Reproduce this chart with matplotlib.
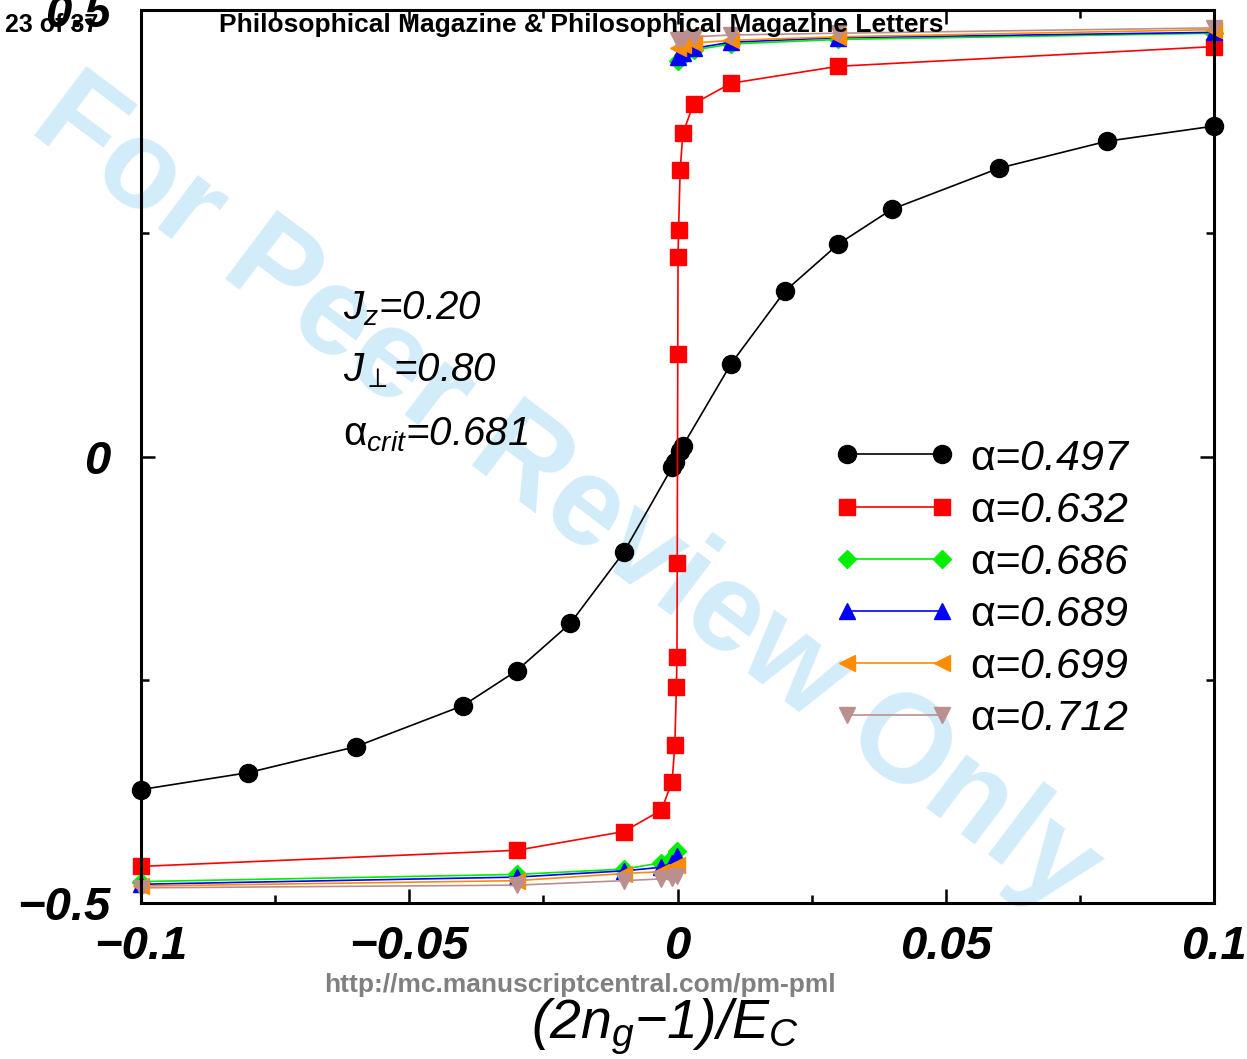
import matplotlib
matplotlib.use("Agg")
from matplotlib import pyplot as plt
from matplotlib.ticker import MultipleLocator, FixedLocator

plt.rcParams['font.family'] = ['Liberation Sans', 'DejaVu Sans']
plt.rcParams['mathtext.fontset'] = 'custom'
plt.rcParams['mathtext.rm'] = 'Liberation Sans'
plt.rcParams['mathtext.it'] = 'Liberation Sans:italic'
plt.rcParams['mathtext.bf'] = 'Liberation Sans:bold'
plt.rcParams['axes.unicode_minus'] = True

# data
x_497 = [-0.1, -0.08, -0.06, -0.04, -0.03, -0.02, -0.01, -0.001, -0.0005,
         0.0005, 0.001, 0.01, 0.02, 0.03, 0.04, 0.06, 0.08, 0.1]
y_497 = [-0.373, -0.354, -0.325, -0.279, -0.240, -0.187, -0.107, -0.012, -0.006,
         0.006, 0.012, 0.104, 0.185, 0.238, 0.277, 0.323, 0.353, 0.370]

x_632 = [-0.1, -0.03, -0.01, -0.003, -0.001, -0.0005, -0.0002, -0.0001, -0.00005,
         0.00005, 0.0001, 0.0002, 0.0005, 0.001, 0.003, 0.01, 0.03, 0.1]
y_632 = [-0.459, -0.441, -0.420, -0.396, -0.364, -0.323, -0.258, -0.225, -0.119,
         0.115, 0.223, 0.254, 0.321, 0.362, 0.395, 0.418, 0.437, 0.459]

# the other series have two branches: below and above the jump
x_low = [-0.1, -0.03, -0.01, -0.003, -0.001, -0.0001]
x_high = [0.0001, 0.001, 0.003, 0.01, 0.03, 0.1]

low_686 = [-0.476, -0.468, -0.462, -0.455, -0.450, -0.442]
high_686 = [0.443, 0.450, 0.455, 0.462, 0.467, 0.474]
low_689 = [-0.479, -0.471, -0.464, -0.460, -0.455, -0.447]
high_689 = [0.447, 0.452, 0.457, 0.464, 0.469, 0.475]
low_699 = [-0.481, -0.475, -0.467, -0.465, -0.462, -0.458]
high_699 = [0.458, 0.461, 0.463, 0.466, 0.470, 0.478]
low_712 = [-0.483, -0.480, -0.475, -0.473, -0.472, -0.470]
high_712 = [0.466, 0.468, 0.470, 0.472, 0.474, 0.480]

x_ticks = [-0.1, -0.05, 0, 0.05, 0.1]
x_tick_labels = ['\u22120.1', '\u22120.05', '0', '0.05', '0.1']
y_ticks = [-0.5, 0, 0.5]
y_tick_labels = ['\u22120.5', '0', '0.5']

fig = plt.figure(figsize=(12.47, 10.59), dpi=100)
ax = fig.add_axes([141 / 1247, 156 / 1059, 1073 / 1247, 893 / 1059])
ax.patch.set_alpha(0)

fig.text(566 / 1247, 1 - 495 / 1059, 'For Peer Review Only', color='#d3ecfa',
         fontsize=91, fontweight='bold', rotation=-37, ha='center', va='center',
         zorder=-5)

lw = 1.2
ax.plot(x_497, y_497, color='k', lw=lw, marker='o', ms=13, clip_on=False,
        label=r'$\mathrm{\alpha}$=0.497')
ax.plot(x_632, y_632, color='red', lw=lw, marker='s', ms=11, clip_on=False,
        label=r'$\mathrm{\alpha}$=0.632')

others = [
    (low_686, high_686, '#00ee00', 'D', 9, '0.686'),
    (low_689, high_689, 'blue', '^', 12, '0.689'),
    (low_699, high_699, '#ff8c00', '<', 12, '0.699'),
    (low_712, high_712, '#bc8f8f', 'v', 12, '0.712'),
]
for low, high, col, mk, ms, name in others:
    ax.plot(x_low, low, color=col, lw=lw, marker=mk, ms=ms, clip_on=False,
            label=r'$\mathrm{\alpha}$=' + name)
    ax.plot(x_high, high, color=col, lw=lw, marker=mk, ms=ms, clip_on=False)

ax.set_xlim(-0.1, 0.1)
ax.set_ylim(-0.5, 0.5)
ax.xaxis.set_major_locator(FixedLocator(x_ticks))
ax.xaxis.set_minor_locator(MultipleLocator(0.025))
ax.yaxis.set_major_locator(FixedLocator(y_ticks))
ax.yaxis.set_minor_locator(MultipleLocator(0.25))
ax.set_xticklabels(x_tick_labels)
ax.set_yticklabels(y_tick_labels)
for s in ax.spines.values():
    s.set_linewidth(2.2)
ax.tick_params(which='both', direction='in', top=True, right=True, width=1.8)
ax.tick_params(which='major', length=10)
ax.tick_params(which='minor', length=6)
ax.tick_params(axis='x', which='major', pad=16, labelsize=34)
ax.tick_params(axis='y', which='major', pad=22, labelsize=34)
for lab in ax.get_xticklabels() + ax.get_yticklabels():
    lab.set_fontweight('bold')
    lab.set_fontstyle('italic')

ax.set_xlabel('(2$n_g$\u22121)/$E_C$', fontsize=40, fontstyle='italic')
ax.xaxis.label.set_va('baseline')
ax.xaxis.set_label_coords(0.488, -0.152)

ax.text(0.188, 0.666, r'$J_z$=0.20', transform=ax.transAxes, fontsize=29,
        fontstyle='italic', va='center')
ax.text(0.188, 0.596, r'$J_\perp$=0.80', transform=ax.transAxes, fontsize=29,
        fontstyle='italic', va='center')
ax.text(0.188, 0.524, r'$\mathrm{\alpha}_{crit}$=0.681', transform=ax.transAxes,
        fontsize=29, fontstyle='italic', va='center')

leg = ax.legend(loc='center left', bbox_to_anchor=(0.61, 0.352), frameon=False,
                numpoints=2, handlelength=2.8, handletextpad=0.35,
                labelspacing=0.28, prop={'size': 31, 'style': 'italic'})

fig.text(5 / 1247, 1 - 25 / 1059, '23 of 37', fontsize=18, fontweight='bold',
         va='center')
fig.text(581 / 1247, 1 - 25 / 1059,
         'Philosophical Magazine & Philosophical Magazine Letters',
         fontsize=19, fontweight='bold', ha='center', va='center')
fig.text(580 / 1247, 1 - 985 / 1059, 'http://mc.manuscriptcentral.com/pm-pml',
         fontsize=19, fontweight='bold', color='#808080', ha='center', va='center')

fig.savefig('out.png', dpi=100)
